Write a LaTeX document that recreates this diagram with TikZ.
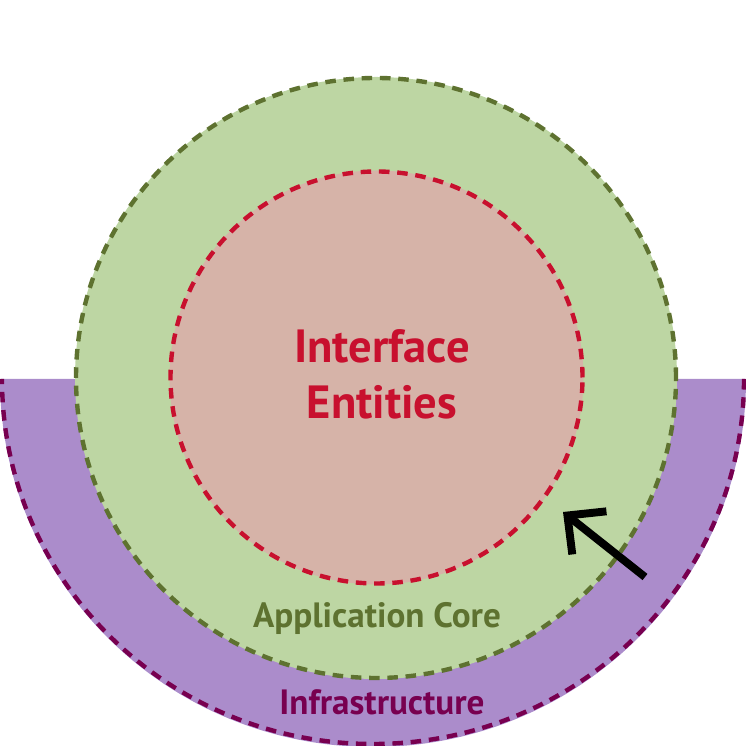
\documentclass[tikz,border=0pt]{standalone}
\usepackage{fontspec}
\setmainfont{PT Sans}
\usetikzlibrary{arrows.meta}
\definecolor{infrafill}{HTML}{AB8CCB}
\definecolor{infraline}{HTML}{780050}
\definecolor{corefill}{HTML}{BDD6A3}
\definecolor{coreline}{HTML}{5E7230}
\definecolor{entfill}{HTML}{D6B3A8}
\definecolor{entline}{HTML}{C8102E}
\tikzset{
  ring/.style={line width=2.5pt, dash pattern=on 6pt off 4.4pt},
  label/.style={font=\bfseries\fontsize{20}{24}\selectfont, inner sep=0pt}
}
\begin{document}
\begin{tikzpicture}[x=0.02cm,y=0.02cm]
  \useasboundingbox (0,0) rectangle (746,746);
  \clip (0,0) rectangle (746,746);
  % infrastructure band
  \fill[infrafill] (0,367) -- (746,367) arc[start angle=0,end angle=-180,x radius=373,y radius=368] -- cycle;
  \draw[ring, infraline] (744,367) arc[start angle=0,end angle=-180,x radius=371,y radius=365];
  % application core
  \fill[corefill] (376,368) circle[radius=301];
  \draw[ring, coreline] (376,368) circle[radius=300];
  % entities
  \fill[entfill] (376.5,368.5) circle[radius=207];
  \draw[ring, entline] (376.5,368.5) circle[radius=206];
  % labels
  \node[label, text=entline, font=\bfseries\fontsize{26.5}{28}\selectfont, align=center] (entities) at (382,372)
    {Interface\\[0.15em]Entities};
  \node[label, text=coreline] (core) at (377,128) {Application Core};
  \node[label, text=infraline] (infra) at (382,44) {Infrastructure};
  % arrow
  \coordinate (from) at (645,169);
  \coordinate (to) at (563,234);
  \draw[line width=4.5pt, -{Straight Barb[length=5.6mm,width=11mm]}] (from) -- (to);
\end{tikzpicture}
\end{document}
